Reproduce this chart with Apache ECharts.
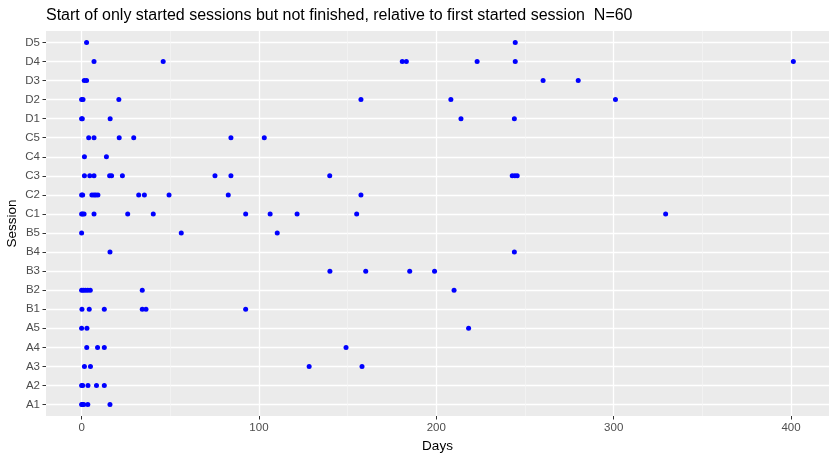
<!DOCTYPE html>
<html>
<head>
<meta charset="utf-8">
<script src="https://cdn.jsdelivr.net/npm/echarts@6/dist/echarts.min.js"></script>
<style>
html, body { margin: 0; padding: 0; background: #fff; }
#chart { width: 837px; height: 460px; }
</style>
</head>
<body>
<div id="chart"></div>
<script>
// sessions, bottom to top
var sessions = ['A1', 'A2', 'A3', 'A4', 'A5', 'B1', 'B2', 'B3', 'B4', 'B5',
                'C1', 'C2', 'C3', 'C4', 'C5', 'D1', 'D2', 'D3', 'D4', 'D5'];

// days since first started session, per session
var A1 = [0, 0.5, 1.2, 3.5, 16];
var A2 = [0, 0.6, 3.6, 8.4, 12.8];
var A3 = [1.6, 5, 128.3, 158.1];
var A4 = [2.9, 9, 12.8, 149.1];
var A5 = [0, 3, 218.2];
var B1 = [0.2, 4.3, 12.8, 34.2, 36.3, 92.5];
var B2 = [0, 1, 2.2, 3.5, 4.9, 34.2, 210];
var B3 = [140, 160.2, 185, 199];
var B4 = [16, 244];
var B5 = [0, 56.2, 110.3];
var C1 = [0, 0.6, 1.4, 7, 26, 40.4, 92.5, 106.3, 121.5, 155.1, 329.3];
var C2 = [0, 0.6, 5.8, 7, 8, 9.2, 32.2, 35.4, 49.3, 82.7, 157.5];
var C3 = [1.6, 4.6, 7, 15.8, 16.9, 23, 75.2, 84.2, 139.9, 242.8, 244.3, 245.6];
var C4 = [1.6, 14];
var C5 = [4, 7, 21.2, 29.4, 84.2, 103];
var D1 = [0, 0.4, 16.1, 213.9, 244];
var D2 = [0, 0.8, 21, 157.5, 208.2, 301];
var D3 = [1.5, 2.8, 260.2, 280];
var D4 = [7, 46, 180.8, 183.1, 223, 244.5, 401.3];
var D5 = [2.8, 244.5];

var days = [A1, A2, A3, A4, A5, B1, B2, B3, B4, B5,
            C1, C2, C3, C4, C5, D1, D2, D3, D4, D5];

var xMajor = [0, 100, 200, 300, 400];
var xMinor = [50, 150, 250, 350];

var points = [];
for (var i = 0; i < days.length; i++) {
    for (var j = 0; j < days[i].length; j++) {
        points.push([days[i][j], i]);
    }
}
var rowIdx = [];
for (i = 0; i < sessions.length; i++) rowIdx.push(i);

var font = 'Liberation Sans, Arial, sans-serif';
var myChart = echarts.init(document.getElementById('chart'));

option = {
    animation: false,
    backgroundColor: '#ffffff',
    title: {
        text: 'Start of only started sessions but not finished, relative to first started session  N=60',
        left: 41,
        top: 3,
        textStyle: { fontFamily: font, fontSize: 16, fontWeight: 'normal', color: '#000' }
    },
    grid: {
        left: 46, right: 8, top: 31, bottom: 44,
        outerBoundsMode: 'none',
        containLabel: false,
        show: true,
        backgroundColor: '#ebebeb',
        borderWidth: 0
    },
    xAxis: [
        {
            type: 'value',
            min: -20.07,
            max: 421.4,
            name: 'Days',
            nameLocation: 'middle',
            nameGap: 23,
            nameTextStyle: { fontFamily: font, fontSize: 13.5, color: '#000' },
            axisLine: { show: false, onZero: false },
            axisTick: { show: true, inside: false, length: 3.5, customValues: xMajor,
                        lineStyle: { color: '#333', width: 1 } },
            axisLabel: { customValues: xMajor, margin: 6,
                         fontFamily: font, fontSize: 11.5, color: '#4d4d4d' },
            splitLine: { show: true, lineStyle: { color: '#ffffff', width: 1.3 } }
        },
        {
            type: 'value',
            min: -20.07,
            max: 421.4,
            position: 'bottom',
            axisLine: { show: false, onZero: false },
            axisTick: { show: false, customValues: xMinor },
            axisLabel: { show: false, customValues: xMinor },
            splitLine: { show: true, lineStyle: { color: '#f5f5f5', width: 0.7 } }
        }
    ],
    yAxis: {
        type: 'value',
        min: -0.6,
        max: 19.6,
        name: 'Session',
        nameLocation: 'middle',
        nameGap: 27,
        nameMoveOverlap: false,
        nameRotate: 90,
        nameTextStyle: { fontFamily: font, fontSize: 13.5, color: '#000' },
        axisLine: { show: false, onZero: false },
        axisTick: { show: true, inside: false, length: 3.5, customValues: rowIdx,
                    lineStyle: { color: '#333', width: 1 } },
        axisLabel: {
            customValues: rowIdx,
            margin: 6,
            fontFamily: font, fontSize: 11.5, color: '#4d4d4d',
            formatter: function (v) { return sessions[Math.round(v)]; }
        },
        splitLine: { show: true, lineStyle: { color: '#ffffff', width: 1.3 } }
    },
    series: [
        {
            name: 'start',
            type: 'scatter',
            xAxisIndex: 0,
            symbol: 'circle',
            symbolSize: 5,
            itemStyle: { color: '#0000ff', opacity: 1 },
            data: points
        }
    ]
};
myChart.setOption(option);
</script>
</body>
</html>
